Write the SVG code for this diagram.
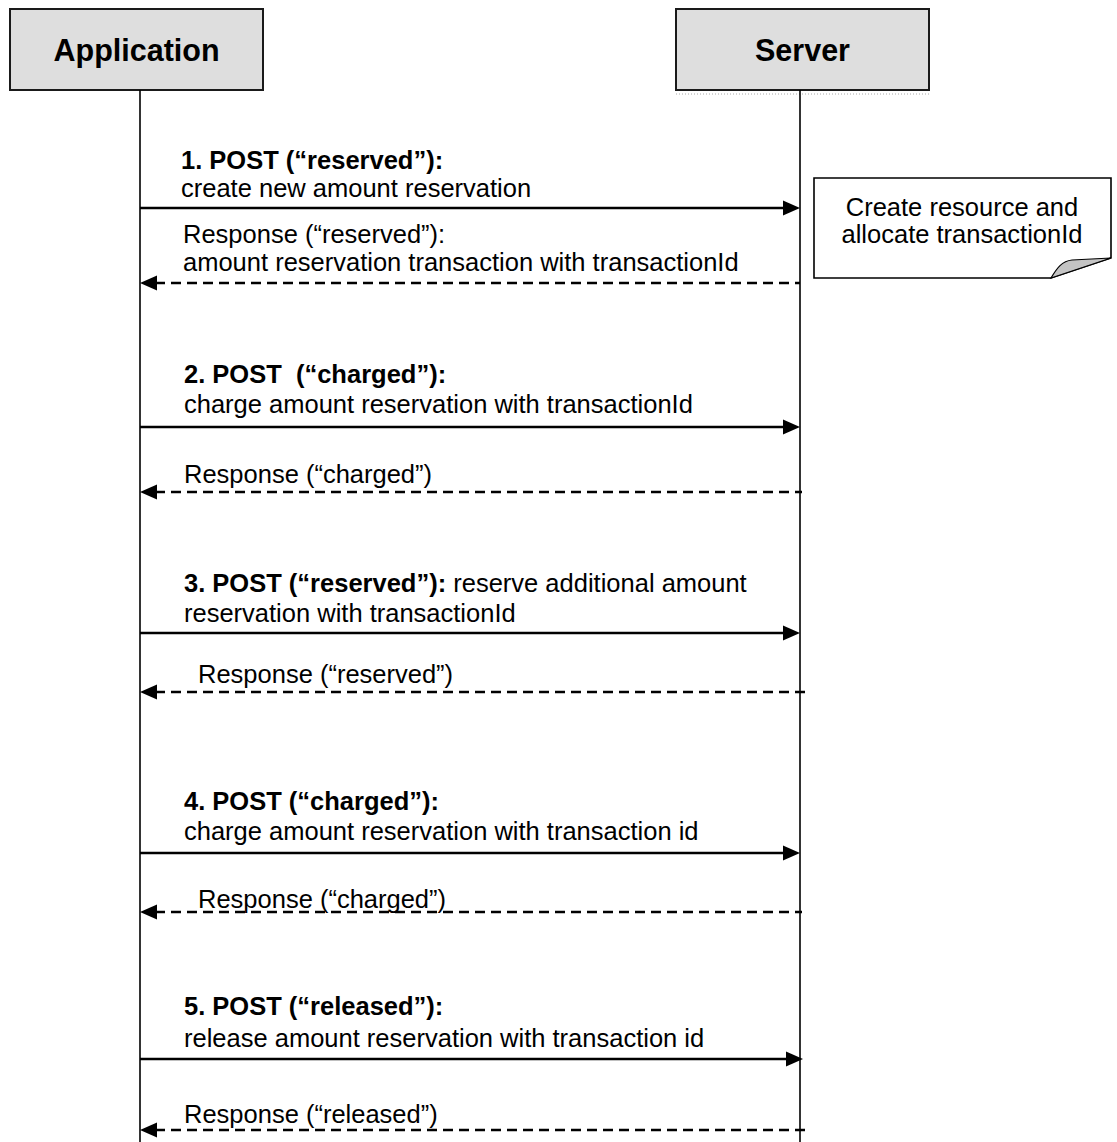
<svg xmlns="http://www.w3.org/2000/svg" width="1117" height="1142" viewBox="0 0 1117 1142">
<defs>
<style>
.hdr{fill:#dedede;stroke:#1a1a1a;stroke-width:2}
.hdrt{font-family:"Liberation Sans",Arial,sans-serif;font-weight:bold;font-size:30.5px;fill:#000;text-anchor:middle}
.t{font-family:"Liberation Sans",Arial,sans-serif;font-size:25.5px;fill:#000}
.b{font-weight:bold}
.life{stroke:#000;stroke-width:1.6;fill:none}
.req{stroke:#000;stroke-width:2.5;fill:none}
.rsp{stroke:#000;stroke-width:2.4;fill:none;stroke-dasharray:10 6}
.head{fill:#000}
</style>
</defs>
<rect width="1117" height="1142" fill="#fff"/>
<g id="application">
<rect class="hdr" x="10" y="9" width="253" height="81"/>
<text class="hdrt" x="136.5" y="61">Application</text>
<line class="life" x1="140" y1="90" x2="140" y2="1142"/>
</g>
<g id="server">
<rect class="hdr" x="676" y="9" width="253" height="81"/>
<line x1="676" y1="94" x2="929" y2="94" stroke="#aaa" stroke-width="1" stroke-dasharray="1 2"/>
<text class="hdrt" x="802.5" y="61">Server</text>
<line class="life" x1="800" y1="90" x2="800" y2="1142"/>
</g>
<g id="note">
<path d="M814,178 L1111,178 L1111,258 L1051,278 L814,278 Z" fill="#fff" stroke="#000" stroke-width="1.6"/>
<path d="M1051,278 C1057,268 1062,261 1072,260 L1111,258 Z" fill="#c4c4c4" stroke="#000" stroke-width="1.2"/>
<text class="t" x="962" y="216" text-anchor="middle">Create resource and</text>
<text class="t" x="962" y="243" text-anchor="middle">allocate transactionId</text>
</g>
<g id="connectors">
<line class="req" x1="140" y1="208" x2="786" y2="208"/>
<polygon class="head" points="800,208 783,200.5 783,215.5"/>
<line class="rsp" x1="155" y1="283" x2="800" y2="283"/>
<polygon class="head" points="140,283 157,275.5 157,290.5"/>
<line class="req" x1="140" y1="427" x2="786" y2="427"/>
<polygon class="head" points="800,427 783,419.5 783,434.5"/>
<line class="rsp" x1="155" y1="492" x2="802" y2="492"/>
<polygon class="head" points="140,492 157,484.5 157,499.5"/>
<line class="req" x1="140" y1="633" x2="786" y2="633"/>
<polygon class="head" points="800,633 783,625.5 783,640.5"/>
<line class="rsp" x1="155" y1="692" x2="805" y2="692"/>
<polygon class="head" points="140,692 157,684.5 157,699.5"/>
<line class="req" x1="140" y1="853" x2="786" y2="853"/>
<polygon class="head" points="800,853 783,845.5 783,860.5"/>
<line class="rsp" x1="155" y1="912" x2="802" y2="912"/>
<polygon class="head" points="140,912 157,904.5 157,919.5"/>
<line class="req" x1="140" y1="1059" x2="788" y2="1059"/>
<polygon class="head" points="803,1059 786,1051.5 786,1066.5"/>
<line class="rsp" x1="155" y1="1130" x2="805" y2="1130"/>
<polygon class="head" points="140,1130 157,1122.5 157,1137.5"/>
</g>
<g id="labels">
<text class="t b" x="181" y="169">1. POST (“reserved”):</text>
<text class="t" x="181" y="197">create new amount reservation</text>
<text class="t" x="183" y="243">Response (“reserved”):</text>
<text class="t" x="183" y="271">amount reservation transaction with transactionId</text>
<text class="t b" x="184" y="383" xml:space="preserve">2. POST  (“charged”):</text>
<text class="t" x="184" y="413">charge amount reservation with transactionId</text>
<text class="t" x="184" y="483">Response (“charged”)</text>
<text class="t" x="184" y="592"><tspan class="b">3. POST (“reserved”):</tspan> reserve additional amount</text>
<text class="t" x="184" y="622">reservation with transactionId</text>
<text class="t" x="198" y="683">Response (“reserved”)</text>
<text class="t b" x="184" y="810">4. POST (“charged”):</text>
<text class="t" x="184" y="840">charge amount reservation with transaction id</text>
<text class="t" x="198" y="908">Response (“charged”)</text>
<text class="t b" x="184" y="1015">5. POST (“released”):</text>
<text class="t" x="184" y="1047">release amount reservation with transaction id</text>
<text class="t" x="184" y="1123">Response (“released”)</text>
</g>
</svg>
